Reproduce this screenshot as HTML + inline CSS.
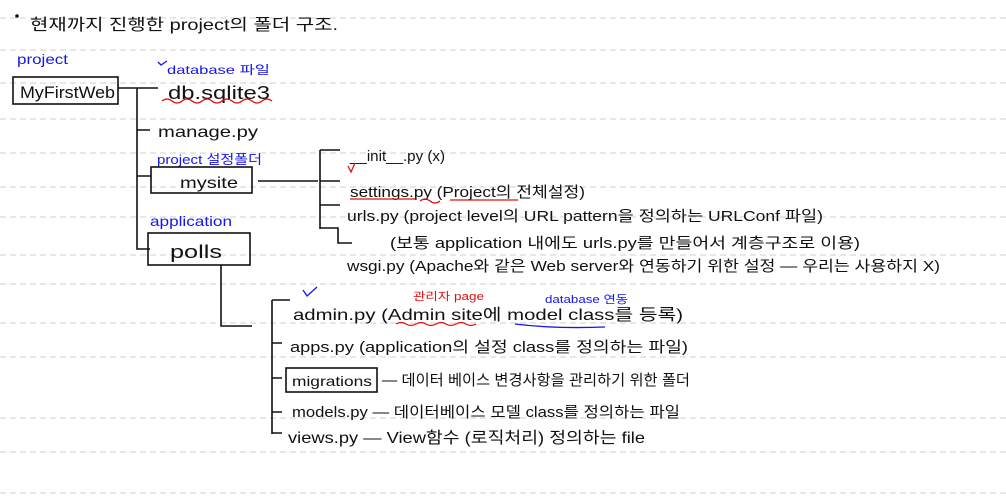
<!DOCTYPE html>
<html><head><meta charset="utf-8"><style>
html,body{margin:0;padding:0;background:#fff;}
svg{display:block;}
text{font-family:"Liberation Sans","Noto Sans CJK KR",sans-serif;}
</style></head><body>
<svg width="1006" height="502" viewBox="0 0 1006 502" xmlns="http://www.w3.org/2000/svg">
<g stroke="#cfcfcf" stroke-width="1" stroke-dasharray="6,4">
<line x1="0" y1="18" x2="1006" y2="18"/><line x1="0" y1="50" x2="1006" y2="50"/>
<line x1="0" y1="83" x2="1006" y2="83"/><line x1="0" y1="119" x2="1006" y2="119"/>
<line x1="0" y1="153" x2="1006" y2="153"/><line x1="0" y1="187" x2="1006" y2="187"/>
<line x1="0" y1="217" x2="1006" y2="217"/><line x1="0" y1="255" x2="1006" y2="255"/>
<line x1="0" y1="284" x2="1006" y2="284"/><line x1="0" y1="323" x2="1006" y2="323"/>
<line x1="0" y1="357" x2="1006" y2="357"/><line x1="0" y1="418" x2="1006" y2="418"/>
<line x1="0" y1="452" x2="1006" y2="452"/><line x1="0" y1="493" x2="1006" y2="493"/>
</g>
<circle cx="17" cy="16" r="1.8" fill="#111"/>
<g fill="#111">
<text x="30" y="30" font-size="16" textLength="308" lengthAdjust="spacingAndGlyphs">현재까지 진행한 project의 폴더 구조.</text>
<text x="20" y="98" font-size="17" textLength="95" lengthAdjust="spacingAndGlyphs">MyFirstWeb</text>
<text x="168" y="99" font-size="18" textLength="102" lengthAdjust="spacingAndGlyphs">db.sqlite3</text>
<text x="158" y="137" font-size="16" textLength="100" lengthAdjust="spacingAndGlyphs">manage.py</text>
<text x="180" y="188" font-size="16" textLength="58" lengthAdjust="spacingAndGlyphs">mysite</text>
<text x="170" y="258" font-size="18" textLength="52" lengthAdjust="spacingAndGlyphs">polls</text>
<text x="350" y="161" font-size="15" textLength="95" lengthAdjust="spacingAndGlyphs">__init__.py (x)</text>
<text x="350" y="197" font-size="15" textLength="235" lengthAdjust="spacingAndGlyphs">settings.py (Project의 전체설정)</text>
<text x="347" y="221" font-size="15" textLength="476" lengthAdjust="spacingAndGlyphs">urls.py (project level의 URL pattern을 정의하는 URLConf 파일)</text>
<text x="390" y="248" font-size="15" textLength="470" lengthAdjust="spacingAndGlyphs">(보통 application 내에도 urls.py를 만들어서 계층구조로 이용)</text>
<text x="347" y="271" font-size="15" textLength="593" lengthAdjust="spacingAndGlyphs">wsgi.py (Apache와 같은 Web server와 연동하기 위한 설정 — 우리는 사용하지 X)</text>
<text x="293" y="320" font-size="16" textLength="390" lengthAdjust="spacingAndGlyphs">admin.py (Admin site에 model class를 등록)</text>
<text x="290" y="352" font-size="15" textLength="398" lengthAdjust="spacingAndGlyphs">apps.py (application의 설정 class를 정의하는 파일)</text>
<text x="292" y="386" font-size="14" textLength="80" lengthAdjust="spacingAndGlyphs">migrations</text>
<text x="382" y="385" font-size="15" textLength="308" lengthAdjust="spacingAndGlyphs">— 데이터 베이스 변경사항을 관리하기 위한 폴더</text>
<text x="292" y="417" font-size="15" textLength="388" lengthAdjust="spacingAndGlyphs">models.py — 데이터베이스 모델 class를 정의하는 파일</text>
<text x="288" y="443" font-size="16" textLength="357" lengthAdjust="spacingAndGlyphs">views.py — View함수 (로직처리) 정의하는 file</text>
</g>
<g fill="#1515ee">
<text x="17" y="64" font-size="14" textLength="51" lengthAdjust="spacingAndGlyphs">project</text>
<text x="167" y="74" font-size="12" textLength="103" lengthAdjust="spacingAndGlyphs">database 파일</text>
<text x="157" y="164" font-size="13" textLength="105" lengthAdjust="spacingAndGlyphs">project 설정폴더</text>
<text x="150" y="226" font-size="14" textLength="82" lengthAdjust="spacingAndGlyphs">application</text>
<text x="545" y="303" font-size="11" textLength="83" lengthAdjust="spacingAndGlyphs">database 연동</text>
</g>
<text x="413" y="300" font-size="11" fill="#e01010" textLength="71" lengthAdjust="spacingAndGlyphs">관리자 page</text>
<g fill="none" stroke="#111" stroke-width="1.6">
<rect x="13" y="77" width="105" height="27"/>
<rect x="151" y="167" width="101" height="26"/>
<rect x="148" y="233" width="102" height="32"/>
<rect x="286" y="368" width="91" height="24"/>
<path d="M118 88H158M137 88V249H150M137 130H150M137 176H151"/>
<path d="M258 181H318M320 150V229M320 150H340M320 181H340M320 205H340M320 228H338V243H352"/>
<path d="M221 265V326H252M272 300V434M272 300H290M272 343H282M272 378H282M272 412H282M272 433H282"/>
</g>
<g fill="none" stroke="#e01010" stroke-width="1.3">
<path d="M162 101q5-4 10 0t10 0t10 0t10 0t10 0t10 0t10 0t10 0t10 0t10 0t10 0"/>
<path d="M350 199H416M420 201q5-4 10 0t10 0M450 200H518"/>
<path d="M396 324q5-3 10 0t10 0t10 0t10 0t10 0t10 0t10 0t10 0"/>
<path d="M348 166l3 6 4-9"/>
</g>
<path d="M515 324q40 5 90 3" fill="none" stroke="#1515ee" stroke-width="1.3"/>
<path d="M303 290l4 6 10-9M158 62l3 3 6-4" fill="none" stroke="#1515ee" stroke-width="1.3"/>
</svg>
</body></html>
